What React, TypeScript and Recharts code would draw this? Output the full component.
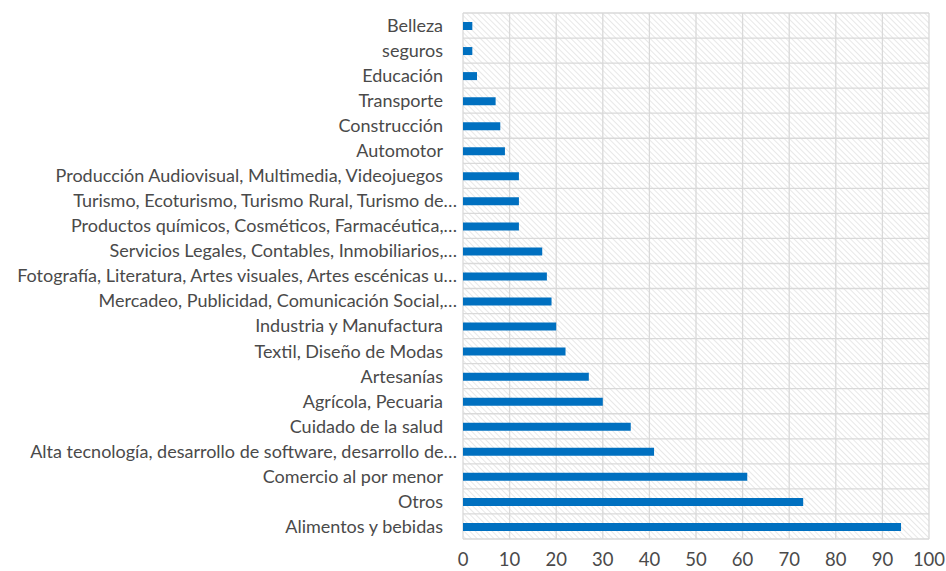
import React from 'react';
import { BarChart, Bar, XAxis, YAxis, CartesianGrid } from 'recharts';

const categories = [
  'Belleza',
  'seguros',
  'Educación',
  'Transporte',
  'Construcción',
  'Automotor',
  'Producción Audiovisual, Multimedia, Videojuegos',
  'Turismo, Ecoturismo, Turismo Rural, Turismo de…',
  'Productos químicos, Cosméticos, Farmacéutica,…',
  'Servicios Legales, Contables, Inmobiliarios,…',
  'Fotografía, Literatura, Artes visuales, Artes escénicas u…',
  'Mercadeo, Publicidad, Comunicación Social,…',
  'Industria y Manufactura',
  'Textil, Diseño de Modas',
  'Artesanías',
  'Agrícola, Pecuaria',
  'Cuidado de la salud',
  'Alta tecnología, desarrollo de software, desarrollo de…',
  'Comercio al por menor',
  'Otros',
  'Alimentos y bebidas',
];

const counts = [2, 2, 3, 7, 8, 9, 12, 12, 12, 17, 18, 19, 20, 22, 27, 30, 36, 41, 61, 73, 94];

const xTicks = [0, 10, 20, 30, 40, 50, 60, 70, 80, 90, 100];

const data = categories.map((name, i) => ({ name, value: counts[i] }));

const FONT = 'Lato, "Open Sans", sans-serif';
const TEXT = '#4a4a4a';

// truncated labels sit a bit closer to the axis than the full ones
const CategoryTick = (props: any) => {
  const { x, y, payload } = props;
  const cut = String(payload.value).endsWith('…');
  return (
    <text
      x={x + (cut ? 14 : 0)}
      y={y}
      dy="0.355em"
      textAnchor="end"
      fill={TEXT}
      fontSize={18}
      fontFamily={FONT}
    >
      {payload.value}
    </text>
  );
};

const App: React.FC = () => {
  // grid lines sit on the category boundaries, like Excel
  const bandLines = ({ offset }: any) => {
    const n = categories.length;
    const out: number[] = [];
    for (let i = 0; i <= n; i++) out.push(offset.top + (i * offset.height) / n);
    return out;
  };

  return (
    <div style={{ position: 'absolute', left: 0, top: 0, background: '#fff' }}>
      <BarChart
        width={946}
        height={571}
        data={data}
        layout="vertical"
        margin={{ top: 13, right: 17, bottom: 0, left: 0 }}
        barCategoryGap={0}
      >
        <defs>
          <pattern id="hatch" patternUnits="userSpaceOnUse" width="4" height="4" patternTransform="rotate(-45)">
            <line x1="0" y1="0" x2="0" y2="4" stroke="#d4d4d4" strokeWidth="1.1" />
          </pattern>
        </defs>
        <CartesianGrid
          stroke="#d9d9d9"
          strokeWidth={1.3}
          fill="url(#hatch)"
          fillOpacity={1}
          horizontalCoordinatesGenerator={bandLines}
        />
        <XAxis
          type="number"
          domain={[0, 100]}
          ticks={xTicks}
          axisLine={false}
          tickLine={false}
          height={32}
          tick={{ fill: TEXT, fontSize: 18.5, fontFamily: FONT }}
          tickMargin={8}
        />
        <YAxis
          type="category"
          dataKey="name"
          width={463}
          axisLine={false}
          tickLine={false}
          interval={0}
          tick={<CategoryTick />}
          tickMargin={14}
        />
        <Bar dataKey="value" fill="#0070C0" barSize={8} isAnimationActive={false} />
      </BarChart>
    </div>
  );
};

export default App;
